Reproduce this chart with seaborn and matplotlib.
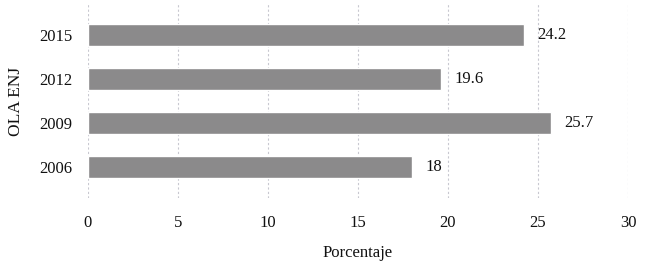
import matplotlib
matplotlib.use("Agg")
import matplotlib.pyplot as plt
import seaborn as sns
import pandas as pd

# Data
olas = ["2015", "2012", "2009", "2006"]
porcentaje = [24.2, 19.6, 25.7, 18]
etiquetas = ["24.2", "19.6", "25.7", "18"]

df = pd.DataFrame({"ola": olas, "pct": porcentaje})

sns.set_style("white")
plt.rcParams["font.family"] = ["Liberation Serif", "DejaVu Serif"]

fig = plt.figure(figsize=(6.45, 2.66), dpi=100)
ax = fig.add_axes([0.1364, 0.2556, 0.8372, 0.7294])

sns.barplot(data=df, x="pct", y="ola", orient="h", color="#8b8a8b",
            width=0.5, saturation=1, ax=ax)

for i, (v, t) in enumerate(zip(porcentaje, etiquetas)):
    ax.text(v + 0.75, i, t, va="center", ha="left", fontsize=12, color="#111111")

ax.set_xlim(0, 30)
ax.set_ylim(3.7, -0.7)
ax.set_xticks([0, 5, 10, 15, 20, 25, 30])
ax.xaxis.grid(True, color="#c8c8d0", linestyle=(0, (2, 2)), linewidth=0.8)
ax.set_axisbelow(True)
for s in ax.spines.values():
    s.set_visible(False)
ax.tick_params(axis="both", length=0, labelsize=12, labelcolor="#111111")
ax.tick_params(axis="x", pad=12)
ax.tick_params(axis="y", pad=11)
ax.set_xlabel("Porcentaje", fontsize=12, labelpad=10, color="#111111")
ax.set_ylabel("OLA ENJ", fontsize=12.5, labelpad=11, color="#111111")

fig.savefig("out.png", dpi=100)
